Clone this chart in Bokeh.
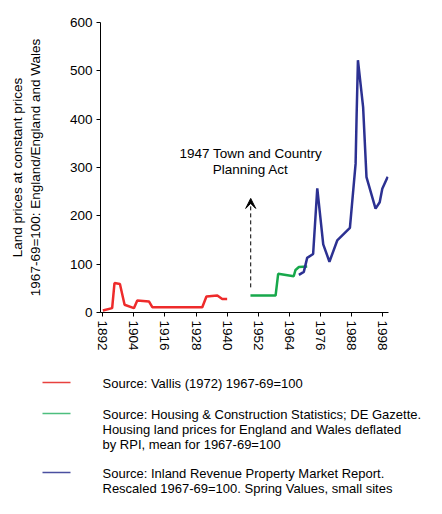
from bokeh.plotting import figure
from bokeh.models import FixedTicker, Arrow, VeeHead, Label, Range1d
from bokeh.core.properties import value
from bokeh.embed import file_html
from bokeh.resources import INLINE

# ---- data ----
vallis_years = [1892.0, 1895.6, 1896.5, 1898.6, 1900.4, 1904.0, 1905.3, 1909.8,
                1911.1, 1930.4, 1932.0, 1936.2, 1938.1, 1940.0]
vallis_values = [4, 9, 61, 59, 16, 9, 25, 23, 11, 11, 33, 35, 28, 28]

hcs_years = [1949.0, 1958.7, 1959.7, 1965.7, 1966.4, 1967.7, 1970.9]
hcs_values = [35, 35, 80, 75, 88, 94, 95]

ir_years = [1967.7, 1969.6, 1970.9, 1973.2, 1974.8, 1977.1, 1979.5, 1982.5,
            1987.4, 1989.6, 1990.0, 1990.5, 1992.5, 1993.8, 1997.3, 1998.9,
            1999.9, 2002.0]
ir_values = [78, 84, 113, 121, 257, 141, 105, 149, 175, 308, 410, 522, 425,
             280, 215, 228, 256, 281]

x_ticks = [1892, 1904, 1916, 1928, 1940, 1952, 1964, 1976, 1988, 2000]
x_tick_labels = ["1892", "1904", "1916", "1928", "1940", "1952", "1964",
                 "1976", "1988", "1998"]
y_ticks = [0, 100, 200, 300, 400, 500, 600]

legend_labels = [
    ["Source: Vallis (1972) 1967-69=100"],
    ["Source: Housing & Construction Statistics; DE Gazette.",
     "Housing land prices for England and Wales deflated",
     "by RPI, mean for 1967-69=100"],
    ["Source: Inland Revenue Property Market Report.",
     "Rescaled 1967-69=100. Spring Values, small sites"],
]

act_year = 1949.1
act_arrow = (52, 236)
act_text = ["1947 Town and Country", "Planning Act"]
act_text_y = [330, 296]

# ---- styles ----
FONT = "Liberation Sans"
RED, GREEN, BLUE = "#EE2B2B", "#17A84B", "#2C3192"
LEG_COLORS = ["#E8413E", "#4DBE7E", "#4A4FA0"]

p = figure(width=426, height=360, output_backend="svg", toolbar_location=None,
           x_range=Range1d(1891.1, 2002.3), y_range=Range1d(0, 600),
           min_border_left=100, min_border_right=38, min_border_top=22,
           min_border_bottom=48)
p.outline_line_color = None
p.grid.visible = False

p.line(vallis_years, vallis_values, line_color=RED, line_width=2.5)
p.line(hcs_years, hcs_values, line_color=GREEN, line_width=2.5)
p.line(ir_years, ir_values, line_color=BLUE, line_width=2.5)

# axes
p.xaxis.ticker = FixedTicker(ticks=x_ticks)
p.xaxis.major_label_overrides = dict(zip(x_ticks, x_tick_labels))
p.xaxis.major_label_orientation = "vertical"
p.yaxis.ticker = FixedTicker(ticks=y_ticks)
for ax in (p.xaxis[0], p.yaxis[0]):
    ax.axis_line_color = "black"
    ax.major_tick_line_color = "black"
    ax.major_tick_in = 0
    ax.major_tick_out = 4
    ax.minor_tick_line_color = None
    ax.major_label_text_font = FONT
    ax.major_label_text_font_size = "13.5px"
    ax.major_label_text_color = "black"
    ax.major_label_standoff = 4
p.yaxis.axis_label = "Land prices at constant prices\n1967-69=100: England/England and Wales"
p.yaxis.axis_label_text_font = FONT
p.yaxis.axis_label_text_font_size = "13.5px"
p.yaxis.axis_label_text_font_style = "normal"
p.yaxis.axis_label_text_color = "black"
p.yaxis.axis_label_standoff = 24

# annotation: 1947 Act
p.add_layout(Arrow(end=VeeHead(size=10, fill_color="black", line_color="black"),
                   x_start=act_year, y_start=act_arrow[0],
                   x_end=act_year, y_end=act_arrow[1],
                   line_color="black", line_width=1, line_dash="4 3"))
for t, y in zip(act_text, act_text_y):
    p.add_layout(Label(x=act_year, y=y, text=t, text_align="center",
                       text_baseline="middle", text_font=FONT,
                       text_font_size="13.5px", text_color="black"))

# ---- legend panel (screen-like coordinates, y downward) ----
LEG_H = 138
q = figure(width=426, height=LEG_H, output_backend="svg", toolbar_location=None,
           x_range=Range1d(0, 426), y_range=Range1d(LEG_H, 0),
           x_axis_type=None, y_axis_type=None,
           min_border=0, min_border_left=0, min_border_right=0,
           min_border_top=0, min_border_bottom=0)
q.outline_line_color = None
q.grid.visible = False

entry_top = [23, 54, 113]   # y of first text line of each entry
line_gap = 15
sample_x0, sample_x1, text_x = 42, 70, 102
for lines, y0, col in zip(legend_labels, entry_top, LEG_COLORS):
    q.segment(x0=[sample_x0], y0=[y0 - 1], x1=[sample_x1], y1=[y0 - 1],
              line_color=col, line_width=1.5)
    ys = [y0 + i * line_gap for i in range(len(lines))]
    q.text(x=[text_x] * len(lines), y=ys, text=lines,
           text_baseline="middle", text_align="left",
           text_font=value(FONT), text_font_size=value("13px"),
           text_color="black")

open("out.html", "w").write(file_html([p, q], INLINE))
